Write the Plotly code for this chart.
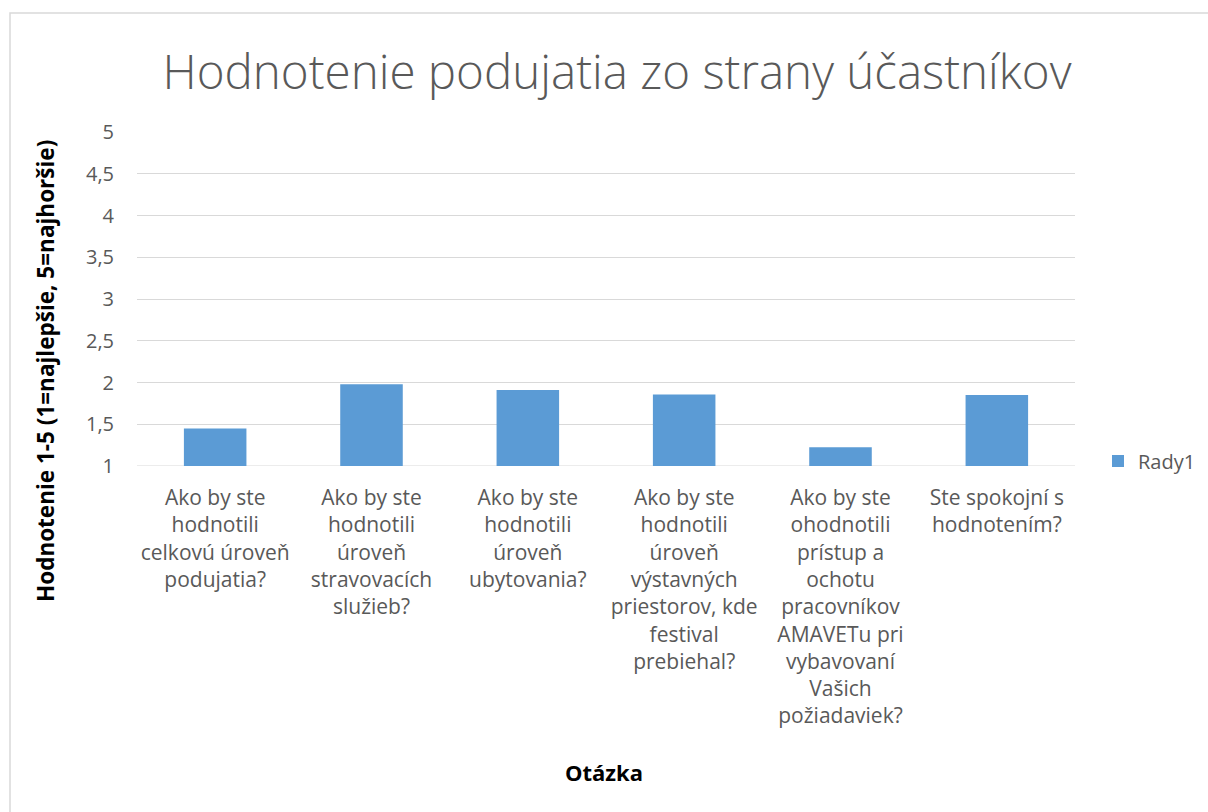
import plotly.graph_objects as go

categories = [
    "Ako by ste<br>hodnotili<br>celkovú úroveň<br>podujatia?",
    "Ako by ste<br>hodnotili<br>úroveň<br>stravovacích<br>služieb?",
    "Ako by ste<br>hodnotili<br>úroveň<br>ubytovania?",
    "Ako by ste<br>hodnotili<br>úroveň<br>výstavných<br>priestorov, kde<br>festival<br>prebiehal?",
    "Ako by ste<br>ohodnotili<br>prístup a<br>ochotu<br>pracovníkov<br>AMAVETu pri<br>vybavovaní<br>Vašich<br>požiadaviek?",
    "Ste spokojní s<br>hodnotením?",
]
values = [1.45, 1.98, 1.91, 1.855, 1.225, 1.85]
series_name = "Rady1"
title_text = "Hodnotenie podujatia zo strany účastníkov"
y_title = "Hodnotenie 1-5 (1=najlepšie, 5=najhoršie)"
x_title = "Otázka"

GREY = "#595959"
FONT = "Open Sans"

fig = go.Figure()
fig.add_trace(go.Bar(
    x=categories, y=values, name=series_name,
    marker=dict(color="#5B9BD5", line=dict(width=0)),
    showlegend=True,
))

W, H = 1208, 812
L, R, T, B = 137, 1075, 132, 466
pw, ph = R - L, B - T

def px(x):
    return (x - L) / pw

def py(y):
    return (B - y) / ph

fig.update_layout(
    width=W, height=H,
    margin=dict(l=L, r=W - R, t=T, b=H - B, autoexpand=False),
    paper_bgcolor="white", plot_bgcolor="white",
    separators=", ",
    font=dict(family=FONT, color=GREY, size=20),
    bargap=0.6,
    title=dict(text=title_text, x=617 / W, xref="container", xanchor="center",
               y=1 - 72 / H, yref="container", yanchor="middle",
               font=dict(family=FONT, size=47.5, color=GREY, weight=300)),
    xaxis=dict(showgrid=False, showline=False, ticks="", tickangle=0,
               tickfont=dict(size=21, color=GREY), ticklabelstandoff=17,
               automargin=False),
    yaxis=dict(range=[1, 5], dtick=0.5, tick0=1, showgrid=True, gridcolor="#D9D9D9",
               gridwidth=1, zeroline=False, showline=False, ticks="",
               tickfont=dict(size=20, color=GREY), ticklabelstandoff=22, automargin=False),
    legend=dict(x=px(1098), y=py(461), xanchor="left", yanchor="middle",
                font=dict(size=20, color=GREY), itemwidth=30, bgcolor="rgba(0,0,0,0)"),
    showlegend=True,
)

fig.add_shape(type="line", xref="paper", yref="y", x0=0, x1=1, y0=1, y1=1,
              line=dict(color="#D9D9D9", width=1), layer="below")

# chart border
fig.add_shape(type="rect", xref="paper", yref="paper",
              x0=px(10), x1=px(1230), y0=py(830), y1=py(13),
              line=dict(color="#D9D9D9", width=1.5), layer="below")

fig.add_annotation(text="<b>" + y_title + "</b>", xref="paper", yref="paper",
                   x=px(45), y=py(371), textangle=-90, showarrow=False,
                   xanchor="center", yanchor="middle",
                   font=dict(family=FONT, size=22.5, color="black"))
fig.add_annotation(text="<b>" + x_title + "</b>", xref="paper", yref="paper",
                   x=px(604), y=py(772), showarrow=False,
                   xanchor="center", yanchor="middle",
                   font=dict(family=FONT, size=22, color="black"))

fig.write_html("out.html", config={"displayModeBar": False},
               post_script="document.body.style.margin='0';")
